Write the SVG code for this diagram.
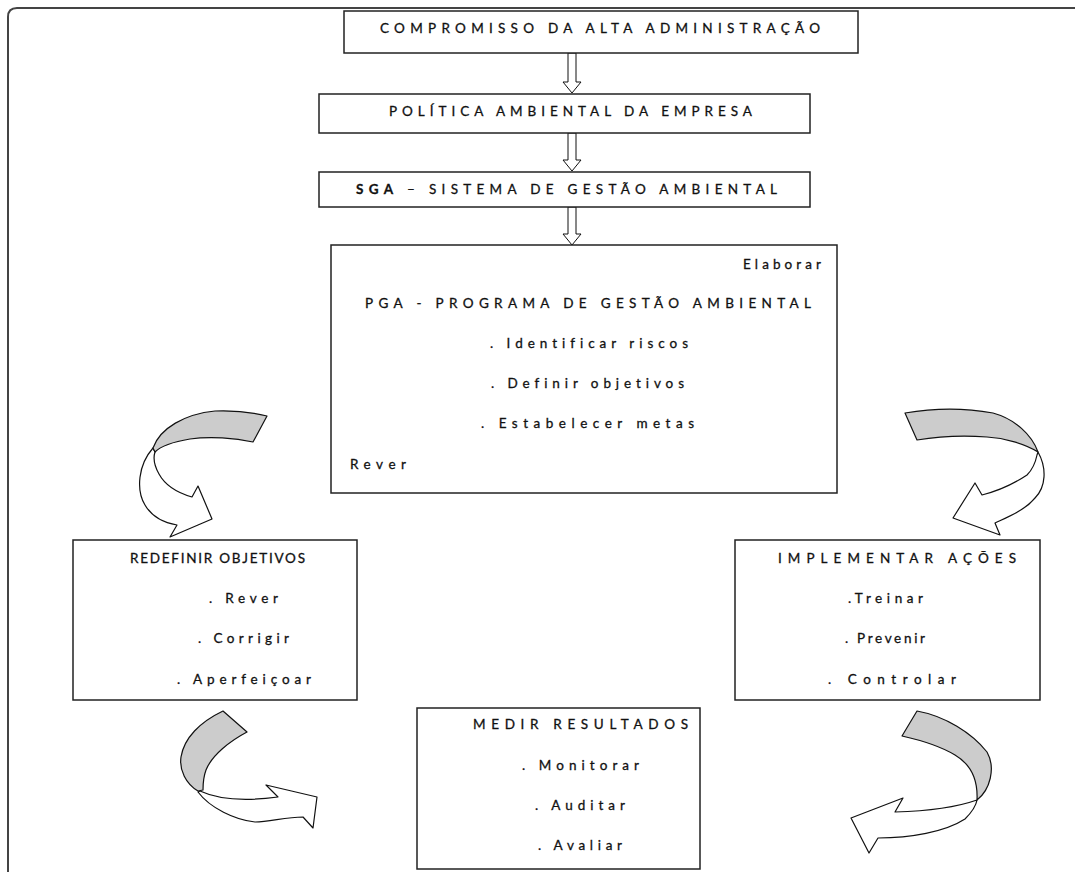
<svg xmlns="http://www.w3.org/2000/svg" width="1075" height="872" viewBox="0 0 1075 872">
<style>
.bg{fill:#fff}
.frame{fill:none;stroke:#444;stroke-width:2}
.box{fill:#fff;stroke:#222;stroke-width:1.5}
.t{font-family:Lato,"Liberation Sans",sans-serif;font-size:13.5px;fill:#111;stroke:#111;stroke-width:0.3;font-variant-ligatures:none}
.arr{fill:#fff;stroke:#111;stroke-width:1}
.band{fill:#cccccc;stroke:#111;stroke-width:1.2;stroke-linejoin:round}
.wh{fill:#fff;stroke:#111;stroke-width:1.2;stroke-linejoin:round}
</style>
<rect class="bg" x="0" y="0" width="1075" height="872"/>
<path class="frame" d="M8,872 V17 Q8,8 17,8 H1075"/>

<g id="connectors">
  <path class="arr" d="M568,53 V82 H563 L572,93 L581,82 H576 V53 Z"/>
  <path class="arr" d="M568,133 V160 H563 L572,171 L581,160 H576 V133 Z"/>
  <path class="arr" d="M568,207 V234 H563 L572,245 L581,234 H576 V207 Z"/>
  <g id="curve-tl">
    <path class="wh" d="M153,448 C138,465 136,490 145,505 C152,517 165,523 177,525 L170,537 L212,519 L198,486 L192,497 C178,493 165,485 159,474 C154,465 153,458 155,452 Z"/>
    <path class="band" d="M153,448 C160,428 185,414 215,411 C240,410 255,413 267,416 L253,442 C235,438 210,436 190,439 C172,442 160,447 155,452 Z"/>
  </g>
  <g id="curve-tr">
    <path class="wh" d="M1038,452 C1047,468 1046,487 1035,498 C1025,510 1010,516 995,523 L1000,535 L953,518 L975,483 L982,495 C998,491 1015,483 1027,475 C1034,468 1036,460 1037,455 Z"/>
    <path class="band" d="M905,413 C935,408 965,408 993,413 C1015,419 1032,435 1038,452 C1025,444 1005,438 987,437 C960,435 935,437 917,440 Z"/>
  </g>
  <g id="curve-bl">
    <path class="wh" d="M200,791 C215,798 240,802 278,797 L266,785 L317,797 L313,828 L303,817 C285,817 270,822 255,822 C235,820 210,808 198,792 Z"/>
    <path class="band" d="M223,711 L247,732 C230,741 212,755 206,770 C203,778 203,785 203,790 L198,791 C186,784 179,770 181,757 C184,738 200,722 223,711 Z"/>
  </g>
  <g id="curve-br">
    <path class="wh" d="M977,800 C960,806 930,811 895,812 L903,798 L851,818 L869,853 L878,838 C910,838 945,832 965,819 C972,812 976,806 977,800 Z"/>
    <path class="band" d="M917,711 C945,716 972,733 987,752 C996,768 990,790 977,800 C978,780 972,765 955,755 C940,746 920,740 902,736 Z"/>
  </g>
</g>

<g id="n-compromisso">
  <rect class="box" x="344" y="11" width="514" height="42"/>
  <text class="t" x="380" y="33" textLength="440" lengthAdjust="spacing">COMPROMISSO DA ALTA ADMINISTRAÇÃO</text>
</g>
<g id="n-politica">
  <rect class="box" x="319" y="94" width="491" height="39"/>
  <text class="t" x="389" y="116" textLength="363" lengthAdjust="spacing">POLÍTICA AMBIENTAL DA EMPRESA</text>
</g>
<g id="n-sga">
  <rect class="box" x="319" y="172" width="491" height="35"/>
  <text class="t" x="356" y="194" textLength="421" lengthAdjust="spacing"><tspan font-weight="bold">SGA</tspan> – SISTEMA DE GESTÃO AMBIENTAL</text>
</g>
<g id="n-pga">
  <rect class="box" x="331" y="245" width="506" height="248"/>
  <text class="t" x="743" y="269" textLength="78" lengthAdjust="spacing">Elaborar</text>
  <text class="t" x="365" y="308" textLength="446" lengthAdjust="spacing">PGA - PROGRAMA DE GESTÃO AMBIENTAL</text>
  <text class="t" x="490" y="348" textLength="198" lengthAdjust="spacing">. Identificar riscos</text>
  <text class="t" x="491" y="388" textLength="193" lengthAdjust="spacing">. Definir objetivos</text>
  <text class="t" x="481" y="428" textLength="213" lengthAdjust="spacing">. Estabelecer metas</text>
  <text class="t" x="350" y="469" textLength="56" lengthAdjust="spacing">Rever</text>
</g>
<g id="n-redefinir">
  <rect class="box" x="73" y="540" width="284" height="160"/>
  <text class="t" x="130" y="563" textLength="175" lengthAdjust="spacing">REDEFINIR OBJETIVOS</text>
  <text class="t" x="209" y="603" textLength="69" lengthAdjust="spacing">. Rever</text>
  <text class="t" x="198" y="643" textLength="91" lengthAdjust="spacing">. Corrigir</text>
  <text class="t" x="177" y="684" textLength="134" lengthAdjust="spacing">. Aperfeiçoar</text>
</g>
<g id="n-implementar">
  <rect class="box" x="735" y="540" width="305" height="160"/>
  <text class="t" x="778" y="563" textLength="238" lengthAdjust="spacing">IMPLEMENTAR AÇÕES</text>
  <text class="t" x="848" y="603" textLength="75" lengthAdjust="spacing">.Treinar</text>
  <text class="t" x="845" y="643" textLength="80" lengthAdjust="spacing">. Prevenir</text>
  <text class="t" x="828" y="684" textLength="128" lengthAdjust="spacing">. Controlar</text>
</g>
<g id="n-medir">
  <rect class="box" x="417" y="708" width="283" height="161"/>
  <text class="t" x="473" y="729" textLength="215" lengthAdjust="spacing">MEDIR RESULTADOS</text>
  <text class="t" x="522" y="770" textLength="117" lengthAdjust="spacing">. Monitorar</text>
  <text class="t" x="535" y="810" textLength="90" lengthAdjust="spacing">. Auditar</text>
  <text class="t" x="538" y="850" textLength="84" lengthAdjust="spacing">. Avaliar</text>
</g>
</svg>
